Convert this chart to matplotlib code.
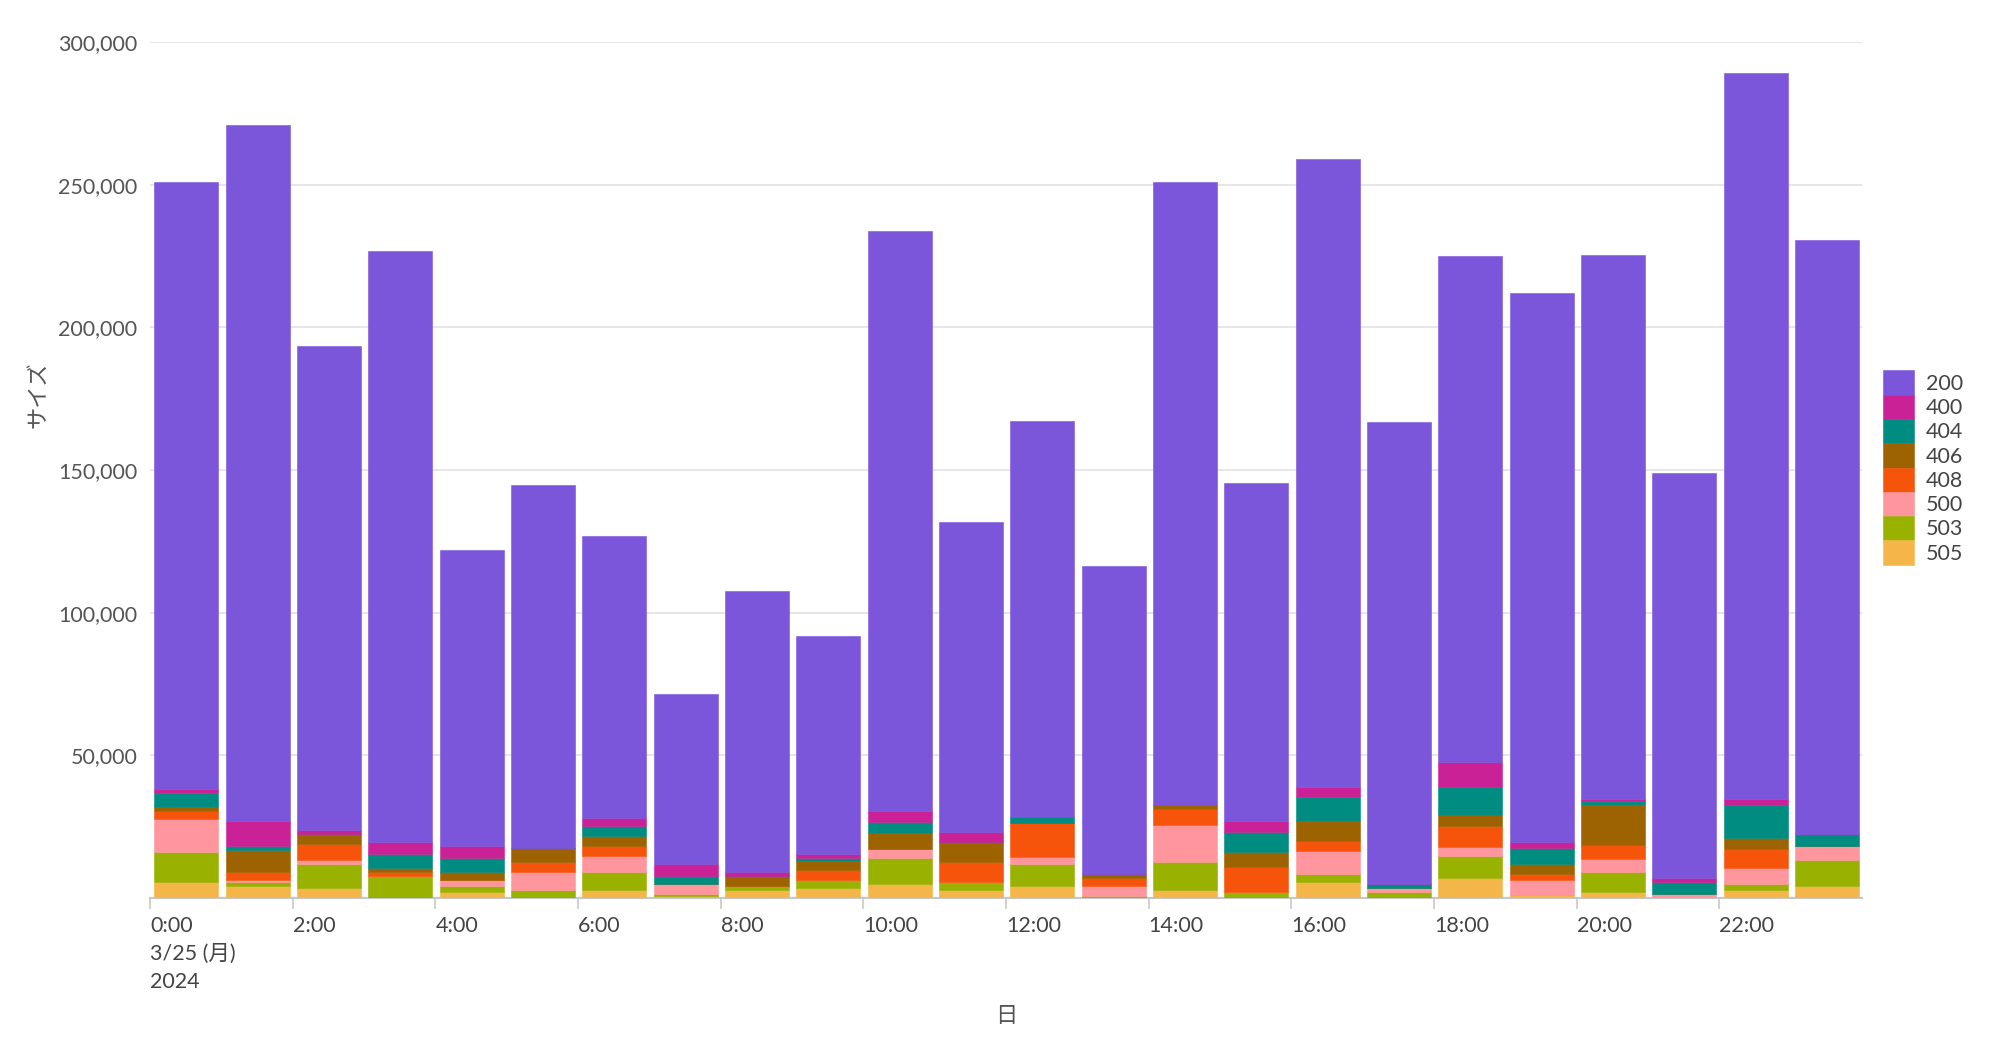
import matplotlib
matplotlib.use("Agg")
import matplotlib.pyplot as plt
import numpy as np

plt.rcParams['font.family'] = ['Lato', 'Noto Sans CJK JP', 'DejaVu Sans']

hours = list(range(24))
series = ['200', '400', '404', '406', '408', '500', '503', '505']
colors = {'200': '#7B56DB', '400': '#CB2196', '404': '#008C80', '406': '#9D6300',
          '408': '#F6540B', '500': '#FF969E', '503': '#99B100', '505': '#F4B649'}

s505 = [5600, 4200, 3500, 0, 2100, 0, 2800, 600, 2900, 3500, 4900, 2800,
        4100, 0, 2900, 0, 5600, 0, 6900, 1200, 2200, 0, 2800, 4100]
s503 = [10500, 1400, 8400, 7600, 2000, 2700, 6300, 700, 1200, 2900, 9100, 2800,
        7800, 600, 9700, 2200, 2800, 2000, 7700, 0, 6900, 0, 2100, 9200]
s500 = [11600, 800, 1400, 0, 2200, 6400, 5700, 3600, 0, 0, 3100, 0,
        2400, 3500, 13000, 0, 8000, 1500, 3200, 5100, 4500, 1400, 5700, 5000]
s408 = [2700, 2800, 5700, 1500, 0, 3500, 3500, 0, 0, 3500, 0, 7000,
        11900, 2900, 5600, 8500, 3500, 0, 7600, 2200, 4900, 0, 6500, 0]
s406 = [1400, 7700, 3500, 1400, 2900, 5000, 3500, 0, 3600, 3000, 5600, 7100,
        0, 1400, 1300, 5500, 7000, 0, 3600, 3400, 14000, 0, 4000, 0]
s404 = [5000, 1300, 0, 5000, 4900, 0, 3600, 2700, 0, 1200, 4100, 0,
        2100, 0, 0, 7000, 8500, 1400, 9900, 5700, 1500, 4200, 11400, 4200]
s400 = [1300, 8700, 1300, 4200, 4100, 0, 2800, 4300, 1400, 1200, 3600, 3500,
        0, 0, 0, 3700, 3500, 0, 8900, 2100, 600, 1300, 2100, 0]
s200 = [212900, 244000, 169800, 207000, 103900, 127300, 98800, 59600, 98600, 76400, 203400, 108700,
        138900, 107800, 218300, 118400, 220000, 161900, 177100, 192200, 190700, 142000, 254700, 208200]

data = {'505': s505, '503': s503, '500': s500, '408': s408,
        '406': s406, '404': s404, '400': s400, '200': s200}

tick_hours = list(range(0, 24, 2))
tick_labels = ['0:00\n3/25 (月)\n2024'] + [f'{h}:00' for h in tick_hours[1:]]

FS = 15.5
fig = plt.figure(figsize=(20, 10.52), dpi=100)
ax = fig.add_axes([0.075, 0.1464, 0.856, 0.8137])

x = np.array(hours) + 0.06
bottom = np.zeros(24)
handles = {}
for name in ['505', '503', '500', '408', '406', '404', '400', '200']:
    vals = np.array(data[name], dtype=float)
    b = ax.bar(x, vals, width=0.9, bottom=bottom, align='edge',
               color=colors[name], edgecolor=colors[name], linewidth=0.4, zorder=3)
    handles[name] = b
    bottom += vals

ax.set_xlim(0, 24)
ax.set_ylim(0, 300000)
ax.set_yticks(np.arange(50000, 300001, 50000))
ax.yaxis.set_major_formatter(matplotlib.ticker.FuncFormatter(lambda v, p: f'{int(v):,}'))
ax.grid(axis='y', color='#e1e1e1', linewidth=1.2, zorder=0)
ax.set_xticks(tick_hours)
ax.set_xticklabels(tick_labels, ha='left', linespacing=1.5)

for sp in ['top', 'right', 'left']:
    ax.spines[sp].set_visible(False)
ax.spines['bottom'].set_color('#c8c8c8')
ax.spines['bottom'].set_linewidth(1.5)

ax.tick_params(axis='y', length=0, pad=9, labelsize=FS, labelcolor='#555555')
ax.tick_params(axis='x', length=8, width=1.2, color='#c8c8c8', pad=5,
               labelsize=FS, labelcolor='#444444')

ax.set_xlabel('日', fontsize=16, color='#555555', va='center')
ax.xaxis.set_label_coords(0.5, -0.138)
ax.set_ylabel('サイズ', fontsize=16, color='#555555', va='center')
ax.yaxis.set_label_coords(-0.0654, 0.588)

leg = fig.legend([handles[n] for n in series], series,
                 loc='upper left', bbox_to_anchor=(0.9415, 0.648),
                 frameon=False, fontsize=FS, handlelength=1.45, handleheight=1.36,
                 labelspacing=0.0, handletextpad=0.55, borderpad=0, borderaxespad=0)
for t in leg.get_texts():
    t.set_color('#444444')

fig.savefig('out.png', dpi=100)
